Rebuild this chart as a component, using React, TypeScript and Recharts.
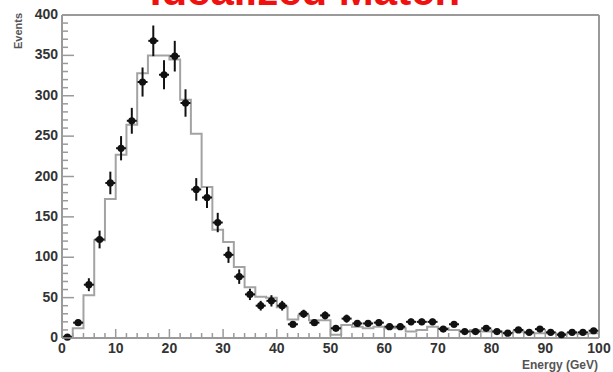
import React from "react"
import { ComposedChart, Line, Scatter, XAxis, YAxis, ErrorBar, ReferenceLine } from "recharts"

// MC histogram: low edge of each 2 GeV bin -> expected events (last entry closes the step at 100)
const binEdges = [0, 2, 4, 6, 8, 10, 12, 14, 16, 18, 20, 22, 24, 26, 28, 30, 32, 34, 36, 38, 40, 42, 44, 46, 48, 50, 52, 54, 56, 58, 60, 62, 64, 66, 68, 70, 72, 74, 76, 78, 80, 82, 84, 86, 88, 90, 92, 94, 96, 98, 100]
const mcEvents = [2, 12, 53, 121, 172, 227, 264, 328, 350, 350, 345, 295, 253, 187, 134, 119, 88, 63, 51, 50, 38, 23, 28, 22, 22, 4, 16, 14, 12, 14, 12, 12, 8, 10, 14, 12, 10, 8, 10, 8, 8, 6, 8, 6, 6, 6, 5, 6, 5, 6, 6]

// data points at bin centres
const binCenters = [1, 3, 5, 7, 9, 11, 13, 15, 17, 19, 21, 23, 25, 27, 29, 31, 33, 35, 37, 39, 41, 43, 45, 47, 49, 51, 53, 55, 57, 59, 61, 63, 65, 67, 69, 71, 73, 75, 77, 79, 81, 83, 85, 87, 89, 91, 93, 95, 97, 99]
const dataEvents = [1, 19, 66, 122, 192, 235, 269, 317, 368, 326, 349, 291, 184, 174, 143, 103, 76, 54, 40, 46, 40, 17, 30, 19, 28, 12, 24, 18, 18, 19, 14, 14, 20, 20, 20, 11, 17, 8, 8, 12, 8, 6, 10, 7, 11, 7, 4, 7, 7, 9]
const dataErrors = [1, 4, 8, 11, 14, 15, 16, 18, 19, 18, 19, 17, 14, 13, 12, 10, 9, 7, 6, 7, 6, 4, 5, 4, 5, 3, 5, 4, 4, 4, 4, 4, 4, 4, 4, 3, 4, 3, 3, 3, 3, 2, 3, 3, 3, 3, 2, 3, 3, 3]

const yMajor = [0, 50, 100, 150, 200, 250, 300, 350, 400]
const xMajor = [0, 10, 20, 30, 40, 50, 60, 70, 80, 90, 100]
const yTicks: number[] = []
for (let v = 0; v <= 400; v += 10) yTicks.push(v)
const xTicks: number[] = []
for (let v = 0; v <= 100; v += 2) xTicks.push(v)

const mcData = binEdges.map((x, i) => ({ x, mc: mcEvents[i] }))
const pointData = binCenters.map((x, i) => ({ x, y: dataEvents[i], err: dataErrors[i] }))

const axisGrey = "#9a9a9a"
const labelFont = "'Liberation Sans', Arial, sans-serif"

const YTick = (props: any) => {
  const { x, y, payload } = props
  const major = yMajor.includes(payload.value)
  return (
    <g>
      <line x1={x} x2={x + (major ? 12 : 6)} y1={y} y2={y} stroke={axisGrey} strokeWidth={1.5} />
      {major && (
        <text x={x - 4} y={y + 4} textAnchor="end" fontSize={14} fontWeight="bold" fill="#333" fontFamily={labelFont}>
          {payload.value}
        </text>
      )}
    </g>
  )
}

const XTick = (props: any) => {
  const { x, y, payload } = props
  const major = xMajor.includes(payload.value)
  return (
    <g>
      <line x1={x} x2={x} y1={y} y2={y - (major ? 9 : 5)} stroke={axisGrey} strokeWidth={1.5} />
      {major && (
        <text x={x} y={y + 15} textAnchor="middle" fontSize={14} fontWeight="bold" fill="#333" fontFamily={labelFont}>
          {payload.value}
        </text>
      )}
    </g>
  )
}

const Marker = (props: any) => {
  const { cx, cy } = props
  return (
    <g>
      <line x1={cx - 5} x2={cx + 5} y1={cy} y2={cy} stroke="#111" strokeWidth={2} />
      <circle cx={cx} cy={cy} r={3.6} fill="#111" />
    </g>
  )
}

export default function App() {
  return (
    <div style={{ position: "absolute", left: 0, top: 0, width: 613, height: 372, background: "#fff" }}>
      <ComposedChart width={613} height={372} data={mcData} margin={{ top: 15, right: 14, bottom: 0, left: 0 }}>
        <XAxis
          dataKey="x"
          type="number"
          domain={[0, 100]}
          ticks={xTicks}
          interval={0}
          tick={<XTick />}
          tickLine={false}
          tickSize={0}
          tickMargin={0}
          height={34}
          axisLine={{ stroke: axisGrey, strokeWidth: 2 }}
        />
        <YAxis
          type="number"
          domain={[0, 400]}
          ticks={yTicks}
          interval={0}
          tick={<YTick />}
          tickLine={false}
          tickSize={0}
          tickMargin={0}
          width={62}
          axisLine={{ stroke: axisGrey, strokeWidth: 2 }}
        />
        <ReferenceLine y={400} stroke={axisGrey} strokeWidth={2} />
        <ReferenceLine x={100} stroke={axisGrey} strokeWidth={2} />
        <Line dataKey="mc" type="stepAfter" stroke="#a3a3a3" strokeWidth={2} dot={false} isAnimationActive={false} />
        <Scatter data={pointData} dataKey="y" shape={<Marker />} isAnimationActive={false}>
          <ErrorBar dataKey="err" direction="y" width={0} stroke="#111" strokeWidth={2} />
        </Scatter>
      </ComposedChart>
      <svg width={613} height={372} style={{ position: "absolute", left: 0, top: 0, pointerEvents: "none" }}>
        <text x={305} y={5} textAnchor="middle" fontSize={42} fontWeight="bold" fill="#f01010" fontFamily={labelFont}>
          Idealized Match
        </text>
        <text transform="translate(22,13) rotate(-90)" textAnchor="end" fontSize={11} fontWeight="bold" fill="#555" fontFamily={labelFont}>
          Events
        </text>
        <text x={598} y={369} textAnchor="end" fontSize={12} fontWeight="bold" fill="#555" fontFamily={labelFont}>
          Energy (GeV)
        </text>
      </svg>
    </div>
  )
}
